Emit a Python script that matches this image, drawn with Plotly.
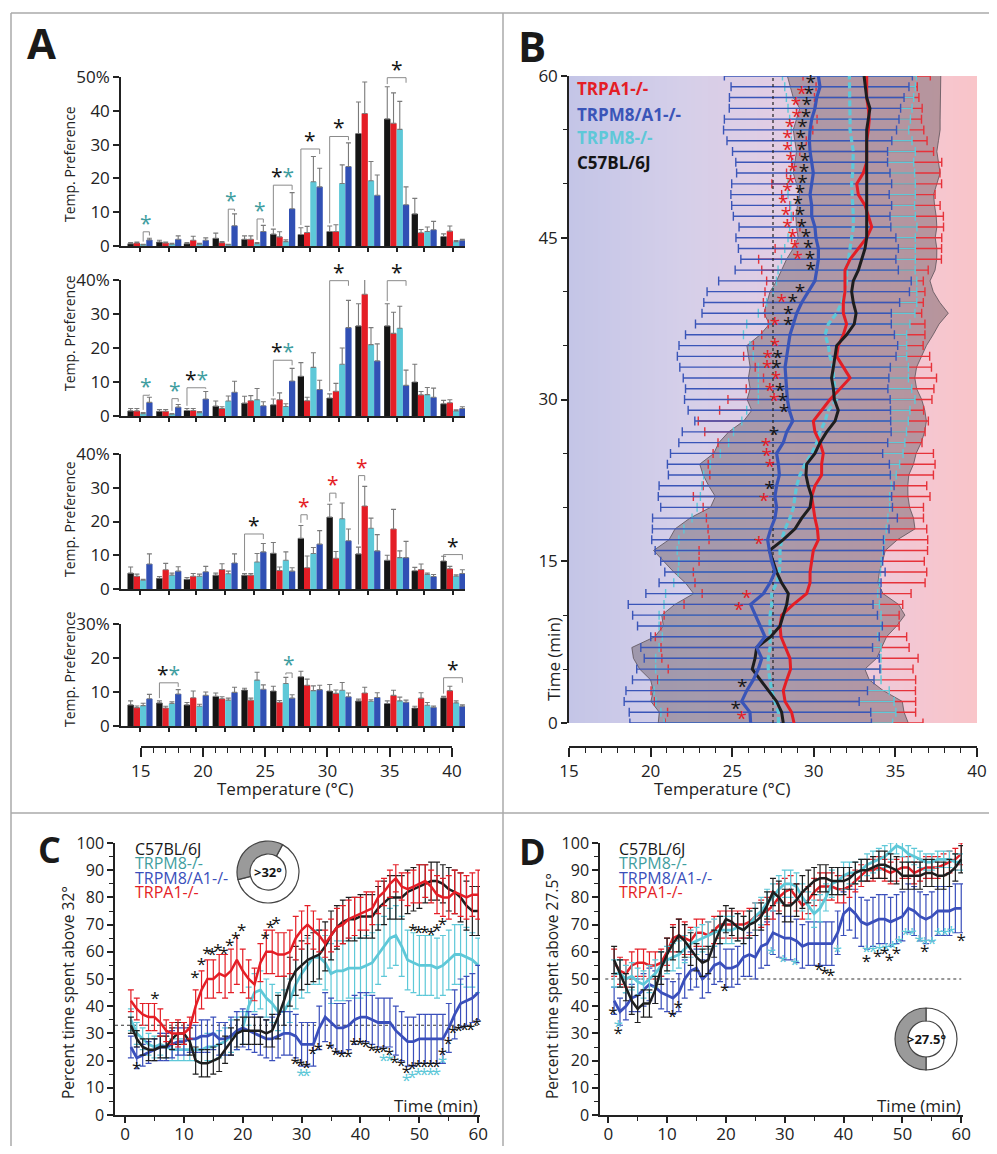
import numpy as np
import plotly.graph_objects as go

# The page body keeps its default 8px margin, so the figure is drawn 8px in from the
# window corner; target pixel positions below are window pixels.
PAGE_OFF = 8
W, H = 997 - 2 * PAGE_OFF, 1154 - 2 * PAGE_OFF
def px_x(p): return (p - PAGE_OFF) / W
def px_y(p): return 1 - (p - PAGE_OFF) / H
def xdom(a, b): return [px_x(a), px_x(b)]
def ydom(top, bottom): return [px_y(bottom), px_y(top)]

FONT = "Open Sans"
K = "#151515"; RED = "#e41e26"; CYAN = "#5ec8d8"; BLUE = "#3150b4"; TEAL = "#3f9ea0"
AX = "#222222"

# ---------------- Panel A data ----------------
bin_temps = [15, 17.3, 19.5, 21.8, 24.1, 26.4, 28.6, 30.9, 33.2, 35.5, 37.7, 40]
pref_black = [[0.7,1.2,0.7,2.3,2.0,3.5,3.4,4.3,33.3,37.6,9.5,2.8],
              [1.5,1.4,1.6,2.9,3.8,3.3,11.7,5.3,26.5,26.5,10.0,3.6],
              [4.7,3.2,2.9,4.1,4.1,10.6,15.0,21.3,10.4,8.5,5.4,8.3],
              [6.2,6.8,6.2,8.7,10.6,10.3,14.5,10.3,7.4,6.6,5.3,8.3]]
pref_black_err = [[0.3,0.5,0.3,1.5,1.0,1.5,2.0,1.6,9.3,9.5,4.6,0.8],
                  [0.7,0.5,0.6,1.5,2.0,1.7,4.0,1.2,6.5,6.5,5.2,1.0],
                  [1.8,0.5,0.5,0.6,0.5,3.2,3.8,3.8,2.0,1.5,1.0,1.4],
                  [1.2,0.6,0.7,1.0,0.5,1.4,1.6,1.9,0.5,0.8,0.5,0.4]]
pref_red = [[0.9,0.9,1.7,1.0,2.0,2.7,4.0,4.3,39.2,36.3,3.9,4.4],
            [1.5,1.4,1.6,2.2,4.5,4.8,4.5,7.3,35.8,24.3,6.2,3.9],
            [3.8,5.7,3.8,5.8,4.1,5.5,6.3,9.1,24.6,17.8,5.8,6.0],
            [5.4,5.3,8.3,8.0,7.6,7.0,12.0,9.6,9.7,9.0,8.2,10.4]]
pref_red_err = [[0.3,0.3,1.2,0.3,1.0,1.5,1.8,2.0,9.3,9.0,1.0,1.5],
                [0.7,0.5,0.6,0.5,1.5,2.0,1.0,2.3,7.5,6.2,1.0,0.9],
                [0.6,1.9,0.8,1.7,0.5,1.0,3.5,2.0,5.8,5.8,1.6,0.7],
                [0.5,0.5,2.0,0.6,0.6,0.5,1.8,1.0,1.7,1.5,1.6,1.3]]
pref_cyan = [[0.3,0.5,0.5,0.3,0.7,1.3,19.0,18.5,19.3,34.5,4.3,1.3],
             [0.7,0.5,1.0,4.4,4.8,2.8,14.3,15.2,21.0,25.8,6.3,1.5],
             [2.6,4.1,3.8,4.5,8.0,8.5,10.5,20.8,18.0,9.3,4.3,3.8],
             [6.0,6.6,5.8,7.6,13.5,12.5,10.4,10.5,7.3,7.4,6.1,6.8]]
pref_cyan_err = [[0.2,0.3,0.3,0.2,0.3,0.5,7.5,5.5,5.7,8.3,1.3,0.3],
                 [0.3,0.2,0.3,1.5,3.3,0.8,4.3,4.8,5.0,6.5,2.1,0.3],
                 [0.3,0.6,0.6,0.8,2.5,2.5,1.8,4.7,3.0,2.0,0.4,0.4],
                 [0.7,0.5,0.6,0.6,2.3,1.8,1.4,2.3,0.4,1.1,0.8,0.6]]
pref_blue = [[1.8,2.0,1.7,6.0,4.3,11.0,17.5,23.5,15.0,12.2,4.8,1.7],
             [4.0,2.6,5.0,7.0,3.0,10.3,7.8,26.0,16.2,9.0,5.5,2.2],
             [7.4,5.3,5.1,7.7,11.0,5.3,13.3,14.3,11.3,9.3,3.7,4.6],
             [8.0,9.4,9.0,9.9,10.8,8.2,10.7,8.6,8.4,7.0,5.5,5.8]]
pref_blue_err = [[0.5,1.0,0.7,3.5,1.8,4.8,5.5,7.0,6.0,5.3,2.5,0.3],
                 [1.5,0.8,2.2,3.2,1.2,3.7,2.7,8.0,5.0,4.5,2.7,0.5],
                 [3.0,1.3,1.6,2.7,2.5,1.0,4.0,3.5,4.8,4.8,0.6,1.1],
                 [1.3,1.3,1.0,1.5,1.3,1.0,1.3,1.1,1.4,0.6,0.4,0.4]]
# significance brackets: panel, group, from-bar, to-bar, height, star colours
sig_panel = [0,0,0,0,0,0,0, 1,1,1,1,1,1, 2,2,2,2,2, 3,3,3]
sig_group = [0,3,4,5,6,7,9, 0,1,2,5,7,9, 4,6,7,8,11, 1,5,11]
sig_from  = [2,2,2,0,0,0,0, 2,2,0,0,0,0, 0,0,0,0,0, 0,2,0]
sig_to    = [3,3,3,3,3,3,3, 3,3,3,3,3,3, 3,1,1,1,3, 3,3,3]
sig_height = [4.2,10.9,8.0,18,28.7,32.4,49.8, 6.1,5.1,8.3,16.4,39.8,39.8, 16.3,22,28.4,33.6,10.2, 12.7,15.6,14.2]
sig_stars = ["c","c","c","kc","k","k","k", "c","c","kc","kc","k","k", "k","r","r","r","k", "kc","c","k"]

# ---------------- Panel B data ----------------
b_time = list(range(0, 61))
b_blue = [26.13,26.09,25.58,25.89,26.29,26.60,26.81,26.50,27.01,26.70,26.40,26.13,26.91,27.32,27.62,27.42,27.28,27.17,27.36,
          27.62,27.72,27.62,27.72,27.89,27.83,27.72,28.13,28.34,28.71,28.50,28.38,28.34,28.30,28.24,28.34,28.44,28.54,28.75,28.95,29.26,29.66,30.07,
          30.18,30.28,30.28,30.13,30.07,29.87,29.87,29.77,29.87,29.97,29.87,29.77,29.73,29.77,29.87,30.07,30.18,30.38,30.28]
b_blue_sd = [7.4,7.4,7.2,7.4,7.4,7.45,7.2,7.1,7.0,7.5,7.5,7.5,7.2,6.8,6.75,6.8,7.0,7.1,7.25,
             7.5,7.1,7.15,7.2,6.8,6.8,6.5,6.4,6.4,6.0,6.2,6.3,6.2,6.3,6.45,6.7,6.7,6.4,6.0,5.8,6.0,6.2,5.9,
             5.0,4.75,4.9,4.9,4.65,4.8,4.9,4.85,4.9,4.7,4.65,4.75,5.05,5.3,5.35,5.25,5.35,5.45,5.76]
b_black = [28.13,28.03,27.72,27.21,26.70,26.23,26.40,26.50,27.36,27.93,28.13,28.34,28.44,28.03,27.72,27.52,27.28,28.13,28.85,
           29.26,29.77,29.87,29.66,29.52,29.56,30.07,30.38,30.79,31.30,31.50,31.26,31.20,31.09,31.20,31.30,31.40,32.01,32.48,32.59,32.42,32.32,32.42,
           32.73,32.93,33.14,33.24,33.24,33.20,33.20,33.24,33.24,33.24,33.24,33.24,33.24,33.24,33.34,33.44,33.24,33.14,33.08]
b_black_sd = [7.66,7.5,7.7,7.05,6.7,6.9,7.45,7.65,7.1,7.15,7.45,6.85,5.8,5.9,6.3,6.7,7.1,7.0,7.35,
              6.85,6.1,5.9,6.1,6.3,6.55,6.2,6.2,6.0,5.6,5.3,5.35,5.1,5.1,5.1,5.3,5.5,5.3,5.2,5.65,5.3,5.0,4.7,
              4.7,4.6,4.4,4.2,4.3,4.3,4.2,4.1,4.3,4.5,4.4,4.3,4.4,4.5,4.4,4.3,4.5,4.6,4.7]
b_red = [28.79,28.64,28.24,28.13,28.34,28.58,28.54,28.24,27.99,27.93,28.03,28.75,29.56,29.77,29.77,29.87,29.97,30.28,30.22,
         30.07,29.97,29.87,30.07,30.48,30.48,30.58,30.38,30.07,29.97,30.48,30.99,31.61,32.22,31.81,31.40,31.50,31.81,32.01,31.81,31.81,31.91,31.91,
         31.91,32.22,32.73,33.24,33.55,33.34,33.14,32.73,32.63,33.03,33.24,33.24,33.24,33.34,33.40,33.34,33.24,33.24,33.24]
b_red_sd = [7.9,7.6,8.0,8.1,7.9,7.5,7.85,7.6,7.7,7.3,7.2,6.7,6.4,7.05,7.15,6.9,7.0,6.7,6.7,
            6.65,6.75,7.25,6.85,6.85,6.95,6.75,6.25,6.75,7.05,6.25,6.25,5.75,5.3,5.4,5.7,5.2,5.0,4.8,4.8,4.9,4.9,4.8,
            5.1,5.6,5.1,4.6,4.4,4.6,4.6,4.7,5.2,4.7,4.6,4.1,3.7,3.4,3.2,3.3,3.2,3.1,3.9]
b_cyan = [27.83,27.83,27.62,27.42,27.32,27.21,27.21,27.32,27.32,27.32,27.32,27.42,27.42,27.72,27.89,27.93,27.93,28.03,28.24,
          28.54,28.75,28.85,28.95,29.15,29.46,29.87,30.18,30.38,30.69,30.89,31.40,31.30,31.20,31.20,30.99,30.89,30.69,30.89,31.40,31.71,31.91,32.01,
          32.01,32.12,32.22,32.32,32.42,32.42,32.38,32.32,32.32,32.38,32.42,32.42,32.32,32.22,32.22,32.22,32.22,32.22,32.18]
b_cyan_sd = [7.0,7.2,7.3,7.2,6.8,6.9,6.9,6.8,6.6,6.8,6.8,6.6,6.5,6.3,6.2,6.2,6.3,6.3,6.2,
             6.0,5.9,5.8,5.8,5.9,5.8,5.6,5.4,5.3,5.1,5.0,4.8,4.7,4.6,4.6,4.7,4.8,5.0,5.0,4.8,4.6,4.4,4.3,
             4.2,4.1,4.0,3.9,3.9,3.8,3.8,3.9,3.9,3.8,3.7,3.8,3.7,3.6,3.7,3.8,3.9,4.0,4.1]
bstar_black_t = [1.2,3.2,21.6,26.6,28.7,29.7,30.7,32.8,33.7,36.8,37.8,38.9,39.9,41.9,42.9,43.9,45.0,45.9,47.0,48.0,
                 49.0,50.0,51.0,52.0,53.0,54.1,55.2,56.1,57.2,58.2,59.2]
bstar_black_T = [25.21,25.62,27.28,27.56,28.17,28.09,27.93,27.72,27.79,28.44,28.44,28.71,29.15,29.81,29.77,29.66,29.52,29.26,29.15,29.01,
                 29.15,29.30,29.40,29.46,29.26,29.20,29.30,29.52,29.56,29.71,29.81]
bstar_red_t = [0.3,10.4,11.5,16.5,20.5,23.6,24.6,25.6,29.7,30.7,31.8,32.8,33.7,34.8,36.8,38.9,42.9,43.9,45.0,45.9,
               47.0,48.1,49.2,50.0,51.1,52.1,53.0,54.1,55.2,56.1,57.2,58.2]
bstar_red_T = [25.58,25.42,25.89,26.64,26.95,27.32,27.11,27.07,27.58,27.32,27.68,27.15,27.17,27.62,27.62,28.03,29.01,28.85,28.71,28.38,
               28.30,28.13,28.38,28.58,28.71,28.58,28.38,28.38,28.54,28.95,28.91,29.26]

# ---------------- Panel C / D data ----------------
minutes = list(range(1, 61))
c_black = [33,28,25,24,24,25,25,28,30,30, 27,20,19,19,20,21,24,27,30,31, 31,31,31,30,31,36,42,49,53,55,
           57,58,59,62,66,69,71,72,72,73, 73,73,76,78,80,80,80,82,83,84, 85,86,86,85,83,82,80,77,75,75]
c_black_err = [3,3,3,4,4,4,4,4,4,4, 5,5,5,5,5,5,5,5,5,5, 5,5,5,5,6,8,9,9,9,9,
               9,9,9,9,9,8,8,8,8,8, 8,8,8,8,8,8,8,8,8,8, 7,7,7,7,8,8,9,9,9,9]
c_red = [42,39,37,36,36,34,31,30,30,30, 32,40,46,50,50,52,51,53,57,53, 50,48,56,60,60,59,59,60,65,68,
         70,68,66,63,66,69,70,72,73,74, 75,76,80,82,85,87,84,83,84,85, 86,84,81,80,80,82,81,80,81,81]
c_red_err = [4,4,4,5,5,5,4,4,5,4, 4,6,7,7,7,7,8,8,9,8, 7,6,7,8,8,8,8,8,8,7,
             7,7,6,5,6,7,7,7,7,6, 7,6,6,5,5,5,5,6,6,7, 6,6,7,7,8,8,8,8,8,9]
c_cyan = [35,30,28,26,25,26,25,24,24,24, 24,24,24,25,25,26,27,29,30,32, 40,45,46,43,41,38,38,42,48,52,
          55,58,58,56,52,53,53,54,54,54, 55,56,59,62,65,66,62,57,56,55, 55,55,54,55,57,59,59,58,57,55]
c_cyan_err = [4,4,4,4,4,4,4,4,4,4, 4,4,5,5,5,5,5,6,6,6, 7,7,7,7,7,7,8,8,9,9,
              10,10,10,10,11,11,11,11,11,11, 11,11,11,11,11,11,11,11,11,11, 11,11,11,11,11,11,11,11,10,10]
c_blue = [25,21,22,23,24,25,25,26,27,27, 28,28,29,29,30,28,28,29,31,32, 31,30,29,28,28,29,30,30,29,26,
          26,26,32,36,34,32,32,33,35,36, 36,35,34,34,34,31,29,27,27,28, 28,28,28,28,32,37,41,42,43,45]
c_blue_err = [4,4,4,4,4,5,5,5,5,5, 5,5,6,6,6,6,6,7,7,7, 7,7,7,7,8,8,8,8,8,8,
              8,8,8,9,9,9,9,9,9,9, 9,9,9,9,9,9,9,9,9,9, 9,9,9,9,9,9,9,9,9,10]
cstar_black_t = [2,5.1,11.9,13,13.9,14.8,15.8,16.8,17.8,18.8, 19.8,23.8,24.7,25.7,28.9,29.8,30.8,31.9,32.8,34.8,
                 35.8,36.8,37.9,38.9,39.9,40.9,41.9,42.9,43.9,44.9, 45.8,46.9,47.8,48.8,49.8,50.8,51.9,52.9,53.9,54.9,
                 55.7,56.7,57.7,58.7,59.8,48.9,49.9,50.9,52.0,53.0, 53.9]
cstar_black_v = [16.5,42.5,50.2,54.8,59,58.7,60,59,61.8,64.3, 67.3,64.3,68.5,70.1,18.4,17.7,17.1,22,23.6,24,
                 21.7,21.2,21.2,25.3,25.3,24.8,23.3,22.6,22.9,21.7, 19,17.7,15,16.8,17.5,17.5,17.5,17.5,21.7,25.7,
                 30,30.5,30.8,31,32.7,67.3,66.8,66.8,66,67.5, 69.4]
cstar_cyan_t = [29.9,30.8,43.9,44.9,47.8,48.8,49.8,50.8,51.9,52.9,53.9]
cstar_cyan_v = [14,14,19.6,19.6,12.2,13.5,14.3,14.3,14.3,14.3,19]

d_black = [57,52,47,42,39,41,41,46,54,59, 63,66,64,61,58,56,57,63,68,72, 71,69,68,70,71,73,77,82,80,77,
           77,79,82,84,86,87,87,86,86,86, 87,89,90,90,91,92,92,91,90,88, 88,88,88,89,89,88,88,89,91,94]
d_black_err = [5,5,5,5,5,5,5,5,6,6, 6,6,6,6,5,5,5,5,5,5, 5,5,5,5,5,5,5,5,6,6,
               6,6,6,6,5,5,5,5,5,5, 4,4,4,4,4,5,5,5,5,5, 5,5,5,5,5,5,5,5,5,5]
d_red = [56,53,52,55,56,56,55,55,56,60, 65,66,65,64,67,67,66,68,70,70, 70,70,70,71,73,74,75,77,80,82,
         83,80,77,79,82,84,84,84,83,83, 84,86,88,90,90,91,90,89,90,91, 91,89,90,91,91,91,92,93,94,96]
d_red_err = [5,5,5,5,5,5,5,5,5,5, 5,6,6,5,5,5,5,5,5,5, 5,5,5,5,5,5,5,5,5,5,
             5,5,5,5,5,5,5,5,5,5, 4,4,4,4,4,4,4,4,4,4, 4,4,4,4,4,4,4,4,4,4]
d_cyan = [52,52,50,51,49,48,50,52,55,57, 58,59,61,63,64,65,66,67,68,68, 68,69,68,70,73,75,78,80,83,85,
          85,84,80,77,74,76,80,85,86,88, 89,89,90,92,93,94,95,97,99,98, 96,95,94,93,93,94,94,94,93,93]
d_cyan_err = [5,5,5,5,5,5,5,5,5,5, 5,5,5,5,5,5,5,5,5,5, 5,5,5,5,5,5,5,5,5,5,
              5,5,5,5,5,5,5,5,5,5, 4,4,4,4,4,4,4,3,3,3, 3,3,3,3,3,3,3,3,3,3]
d_blue = [42,38,40,43,44,46,48,47,45,44, 43,45,50,53,54,50,52,55,56,54, 54,55,58,59,58,62,63,67,66,65,
          65,64,62,63,63,63,63,63,67,74, 76,74,71,70,71,72,72,71,72,73, 76,75,73,72,73,75,75,75,76,76]
d_blue_err = [5,5,5,5,6,6,6,6,6,6, 6,7,7,7,7,7,7,7,7,7, 7,7,7,8,8,8,8,8,8,8,
              8,8,8,8,8,8,8,8,8,8, 8,9,9,9,9,9,9,9,9,9, 9,9,9,9,9,9,9,9,9,9]
dstar_black_t = [0.8,1.7,10.9,11.9,19.8,35.8,36.8,37.8,43.9,45.8, 47,47.8,49,53.8,60,48.7,49.8,50.9,52,53.1, 54.2]
dstar_black_v = [36.8,29.5,35.6,39,45.4,53,51.5,51,55.8,57.7, 59,56.4,59,59.5,63.8,101,101,100.5,100.5,100.5, 100.5]
dstar_cyan_t = [1.7,27.7,29.7,31.7,38.9,43.9,45,46.1,47.2,48.3,49.4,50.5,51.6,52.8,53.8,55,56.1,57.2,58.3]
dstar_cyan_v = [32,59,55.8,55,59.5,59.5,59.5,60,60.5,61,63,66,66,63.5,62.5,62.5,66,66,66.5]

# donut icons: [fraction below threshold (white), fraction above (grey)]
donut_c = [0.633, 0.367]
donut_d = [0.5, 0.5]

fig = go.Figure()
annotations = []

# ================= Panel A =================
bar_colors = [K, RED, CYAN, BLUE]
star_col = {"k": K, "c": TEAL, "r": RED}
for k in range(4):
    vals4 = [pref_black[k], pref_red[k], pref_cyan[k], pref_blue[k]]
    errs4 = [pref_black_err[k], pref_red_err[k], pref_cyan_err[k], pref_blue_err[k]]
    for i in range(4):
        fig.add_trace(go.Bar(x=bin_temps, y=vals4[i], width=0.5, offset=-1.0 + 0.5 * i,
                             marker=dict(color=bar_colors[i], line=dict(width=0)),
                             error_y=dict(type="data", array=errs4[i], arrayminus=[0] * 12, symmetric=False,
                                          color="#7a7a7a", thickness=1.1, width=2.5),
                             xaxis=f"x{k+1}", yaxis=f"y{k+1}", showlegend=False, hoverinfo="skip"))
    bx, by = [], []
    for s in range(len(sig_panel)):
        if sig_panel[s] != k:
            continue
        g = sig_group[s]; fa = sig_from[s]; fb = sig_to[s]; h = sig_height[s]
        xa = bin_temps[g] - 1.0 + 0.5 * fa + 0.25
        xb = bin_temps[g] - 1.0 + 0.5 * fb + 0.25
        top_a = vals4[fa][g] + errs4[fa][g] + 0.8
        top_b = max(vals4[fb][g] + errs4[fb][g] + 0.8, h - 1.5)
        bx += [xa, xa, xb, xb, None]
        by += [min(top_a, h - 0.5), h, h, top_b, None]
        txt = "".join(f"<span style='color:{star_col[c]}'>*</span>" for c in sig_stars[s])
        annotations.append(dict(x=(xa + xb) / 2, y=h, xref=f"x{k+1}", yref=f"y{k+1}", text=txt,
                                showarrow=False, yanchor="bottom", yshift=-7,
                                font=dict(family=FONT, size=21, color=K)))
    fig.add_trace(go.Scatter(x=bx, y=by, mode="lines", line=dict(color="#8a8a8a", width=1),
                             xaxis=f"x{k+1}", yaxis=f"y{k+1}", showlegend=False, hoverinfo="skip"))

fig.add_trace(go.Scatter(x=[15, 40], y=[0, 1], mode="markers", marker=dict(size=1, color="rgba(0,0,0,0)"),
                         xaxis="x5", yaxis="y5", showlegend=False, hoverinfo="skip"))

# ================= Panel B =================
bg_edges = np.linspace(15, 40, 201)
bg_z = [list((bg_edges[:-1] + bg_edges[1:]) / 2)]
fig.add_trace(go.Heatmap(x=bg_edges, y=[0, 60], z=bg_z, zmin=15, zmax=40, showscale=False, hoverinfo="skip",
                         colorscale=[[0, "#c4c5e7"], [0.28, "#d5cfe9"], [0.52, "#e2cde3"], [0.72, "#edcadb"],
                                     [0.88, "#f5c6d0"], [1, "#f9c5c9"]],
                         xaxis="x6", yaxis="y6"))
lower = list(np.array(b_black) - np.array(b_black_sd))
upper = list(np.array(b_black) + np.array(b_black_sd))
fig.add_trace(go.Scatter(x=lower, y=b_time, mode="lines", line=dict(color="#5a5058", width=0.8),
                         xaxis="x6", yaxis="y6", showlegend=False, hoverinfo="skip"))
fig.add_trace(go.Scatter(x=upper, y=b_time, mode="lines", line=dict(color="#5a5058", width=0.8),
                         fill="tonextx", fillcolor="rgba(95,80,88,0.42)",
                         xaxis="x6", yaxis="y6", showlegend=False, hoverinfo="skip"))
for mean, sd, col in [(b_red, b_red_sd, "#e6323a"), (b_cyan, b_cyan_sd, CYAN), (b_blue, b_blue_sd, "#3a55b8")]:
    fig.add_trace(go.Scatter(x=mean, y=b_time, mode="markers", marker=dict(size=1, color="rgba(0,0,0,0)"),
                             error_x=dict(type="data", array=sd, color=col, thickness=1.4, width=4.5),
                             xaxis="x6", yaxis="y6", showlegend=False, hoverinfo="skip"))
fig.add_trace(go.Scatter(x=[27.5, 27.5], y=[0, 60], mode="lines", line=dict(color="#222", width=1.2, dash="dot"),
                         xaxis="x6", yaxis="y6", showlegend=False, hoverinfo="skip"))
fig.add_trace(go.Scatter(x=b_cyan, y=b_time, mode="lines", line=dict(color=CYAN, width=3.2, dash="6px,3px"),
                         xaxis="x6", yaxis="y6", showlegend=False, hoverinfo="skip"))
fig.add_trace(go.Scatter(x=b_red, y=b_time, mode="lines", line=dict(color=RED, width=3),
                         xaxis="x6", yaxis="y6", showlegend=False, hoverinfo="skip"))
fig.add_trace(go.Scatter(x=b_black, y=b_time, mode="lines", line=dict(color="#1e1e1e", width=3),
                         xaxis="x6", yaxis="y6", showlegend=False, hoverinfo="skip"))
fig.add_trace(go.Scatter(x=b_blue, y=b_time, mode="lines", line=dict(color="#3a55b8", width=3.2),
                         xaxis="x6", yaxis="y6", showlegend=False, hoverinfo="skip"))
fig.add_trace(go.Scatter(x=bstar_red_T, y=bstar_red_t, mode="text", text=["*"] * len(bstar_red_t),
                         textfont=dict(family=FONT, size=19, color=RED), cliponaxis=False,
                         xaxis="x6", yaxis="y6", showlegend=False, hoverinfo="skip"))
fig.add_trace(go.Scatter(x=bstar_black_T, y=bstar_black_t, mode="text", text=["*"] * len(bstar_black_t),
                         textfont=dict(family=FONT, size=19, color=K), cliponaxis=False,
                         xaxis="x6", yaxis="y6", showlegend=False, hoverinfo="skip"))
fig.add_trace(go.Scatter(x=[15, 40], y=[0, 1], mode="markers", marker=dict(size=1, color="rgba(0,0,0,0)"),
                         xaxis="x7", yaxis="y7", showlegend=False, hoverinfo="skip"))

# ================= Panels C and D =================
def add_time_panel(ax, series, stars_k, stars_c, ref_level, ref_x):
    fig.add_trace(go.Scatter(x=ref_x, y=[ref_level, ref_level], mode="lines",
                             line=dict(color="#333", width=1.2, dash="dot"),
                             xaxis=f"x{ax}", yaxis=f"y{ax}", showlegend=False, hoverinfo="skip"))
    for vals, err, col, lw in series:
        fig.add_trace(go.Scatter(x=minutes, y=vals, mode="lines", line=dict(color=col, width=lw),
                                 error_y=dict(type="data", array=err, color=col, thickness=1.2, width=3),
                                 xaxis=f"x{ax}", yaxis=f"y{ax}", showlegend=False, hoverinfo="skip"))
    for (tt, vv), col in [(stars_c, CYAN), (stars_k, K)]:
        fig.add_trace(go.Scatter(x=tt, y=vv, mode="text", text=["*"] * len(tt), cliponaxis=False,
                                 textfont=dict(family=FONT, size=17, color=col),
                                 xaxis=f"x{ax}", yaxis=f"y{ax}", showlegend=False, hoverinfo="skip"))

add_time_panel(8, [(c_cyan, c_cyan_err, CYAN, 2.8), (c_blue, c_blue_err, "#3a4fbb", 2.8),
                   (c_black, c_black_err, "#1e1e1e", 2.5), (c_red, c_red_err, RED, 2.5)],
               (cstar_black_t, cstar_black_v), (cstar_cyan_t, cstar_cyan_v), 33, [-1.7, 60.3])
add_time_panel(9, [(d_blue, d_blue_err, "#3a4fbb", 2.8), (d_red, d_red_err, RED, 2.5),
                   (d_cyan, d_cyan_err, CYAN, 2.8), (d_black, d_black_err, "#1e1e1e", 2.5)],
               (dstar_black_t, dstar_black_v), (dstar_cyan_t, dstar_cyan_v), 50, [-0.5, 60])

fig.add_trace(go.Pie(values=donut_c, hole=0.58, sort=False, rotation=28,
                     marker=dict(colors=["#ffffff", "#9a9a9a"], line=dict(color="#444", width=1.2)),
                     textinfo="none", hoverinfo="skip", showlegend=False,
                     domain=dict(x=xdom(237, 299), y=ydom(841, 903))))
fig.add_trace(go.Pie(values=donut_d, hole=0.58, sort=False, rotation=0,
                     marker=dict(colors=["#ffffff", "#9a9a9a"], line=dict(color="#444", width=1.2)),
                     textinfo="none", hoverinfo="skip", showlegend=False,
                     domain=dict(x=xdom(895, 957), y=ydom(1008, 1070))))

# ================= Layout =================
base = dict(showline=True, linecolor=AX, linewidth=1.5, ticks="outside", tickcolor=AX, tickwidth=1.5,
            showgrid=False, zeroline=False, automargin=False, tickfont=dict(family=FONT, size=17, color=AX))
def minor_t(d, l): return dict(dtick=d, ticks="outside", ticklen=l, tickcolor=AX, tickwidth=1.2)
lay = {}
ya_ranges = [[0, 50], [0, 40], [0, 40], [0, 30]]
ya_ticks = [[0, 10, 20, 30, 40, 50], [0, 10, 20, 30, 40], [0, 10, 20, 30, 40], [0, 10, 20, 30]]
ya_text = [["0", "10", "20", "30", "40", "50%"], ["0", "10", "20", "30", "40%"],
           ["0", "10", "20", "30", "40%"], ["0", "10", "20", "30%"]]
ya_px = [(77, 246), (280, 416), (454, 589), (624, 726)]
for k in range(4):
    lay[f"xaxis{k+1}"] = dict(base, domain=xdom(121, 465), range=[13.48, 40.96], anchor=f"y{k+1}",
                              tickmode="array", tickvals=bin_temps, ticklen=4, showticklabels=False)
    lay[f"yaxis{k+1}"] = dict(base, domain=ydom(*ya_px[k]), range=ya_ranges[k], anchor=f"x{k+1}",
                              tickmode="array", tickvals=ya_ticks[k], ticktext=ya_text[k], ticklen=6)
temp_axis = dict(base, range=[15, 40], tick0=15, dtick=5, ticklen=9, minor=minor_t(1, 5))
hidden = dict(range=[0, 1], visible=False, automargin=False)
lay["xaxis5"] = dict(temp_axis, domain=xdom(140.7, 452), anchor="y5")
lay["yaxis5"] = dict(hidden, domain=ydom(736, 746), anchor="x5")
lay["xaxis6"] = dict(domain=xdom(569, 977), range=[15, 40], visible=False, automargin=False, anchor="y6")
lay["yaxis6"] = dict(base, domain=ydom(76, 723), range=[0, 60], anchor="x6", tick0=0, dtick=15, ticklen=6,
                     minor=minor_t(5, 4))
lay["xaxis7"] = dict(temp_axis, domain=xdom(569, 977), anchor="y7")
lay["yaxis7"] = dict(hidden, domain=ydom(736, 746), anchor="x7")
cd_font = dict(family=FONT, size=16, color=AX)
lay["xaxis8"] = dict(base, domain=xdom(115, 480), range=[-1.7, 60.3], anchor="y8", tick0=0, dtick=10, ticklen=6,
                     minor=minor_t(5, 4), ticklabelstandoff=-3)
lay["yaxis8"] = dict(base, domain=ydom(843, 1115), range=[0, 100], anchor="x8", tick0=0, dtick=10, ticklen=6,
                     minor=minor_t(5, 4), tickfont=cd_font)
lay["xaxis9"] = dict(base, domain=xdom(600, 963), range=[-1.4, 60.3], anchor="y9", tick0=0, dtick=10, ticklen=6,
                     minor=minor_t(5, 4), ticklabelstandoff=-3)
lay["yaxis9"] = dict(base, domain=ydom(843, 1115), range=[0, 100], anchor="x9", tick0=0, dtick=10, ticklen=6,
                     minor=minor_t(5, 4), tickfont=cd_font)

def ann(text, x, y, size, color=AX, xanchor="center", yanchor="middle", angle=0):
    return dict(text=text, x=px_x(x), y=px_y(y), xref="paper", yref="paper", showarrow=False,
                font=dict(family=FONT, size=size, color=color), xanchor=xanchor, yanchor=yanchor,
                textangle=angle)

annotations += [
    ann("<b>A</b>", 41, 43, 42, "#1a1a1a"), ann("<b>B</b>", 532, 45, 42, "#1a1a1a"),
    ann("<b>C</b>", 49, 849, 36, "#1a1a1a"), ann("<b>D</b>", 532, 851, 36, "#1a1a1a"),
    ann("Temp. Preference", 69, 164, 14, angle=-90), ann("Temp. Preference", 69, 333, 14, angle=-90),
    ann("Temp. Preference", 69, 519, 14, angle=-90), ann("Temp. Preference", 69, 669, 14, angle=-90),
    ann("Temperature (°C)", 285, 788, 17), ann("Temperature (°C)", 722, 788, 17),
    ann("Time (min)", 553, 659, 17, angle=-90),
    ann("<b>TRPA1-/-</b>", 575, 89, 17, RED, xanchor="left"),
    ann("<b>TRPM8/A1-/-</b>", 575, 114, 17, "#3a55b8", xanchor="left"),
    ann("<b>TRPM8-/-</b>", 575, 138, 17, CYAN, xanchor="left"),
    ann("<b>C57BL/6J</b>", 575, 162, 17, K, xanchor="left"),
    ann("Percent time spent above 32°", 68, 993, 15.5, angle=-90),
    ann("Percent time spent above 27.5°", 552, 986, 15.5, angle=-90),
    ann("Time (min)", 480, 1105, 17, xanchor="right"), ann("Time (min)", 963, 1105, 17, xanchor="right"),
    ann("<b>&gt;32°</b>", 268, 872, 13, K), ann("<b>&gt;27.5°</b>", 926, 1039, 13, K),
]
for x0 in [133, 617]:
    annotations += [ann("C57BL/6J", x0, 849, 16, K, xanchor="left"),
                    ann("TRPM8-/-", x0, 863, 16, TEAL, xanchor="left"),
                    ann("TRPM8/A1-/-", x0, 878, 16, "#3a4fbb", xanchor="left"),
                    ann("TRPA1-/-", x0, 892, 16, RED, xanchor="left")]

line_col = "#aaaaaa"
def pline(x0, y0, x1, y1):
    return dict(type="line", xref="paper", yref="paper", x0=px_x(x0), x1=px_x(x1), y0=px_y(y0), y1=px_y(y1),
                line=dict(color=line_col, width=1.5))
shapes = [pline(11, 13, 11, 1146), pline(11, 13, 989, 13), pline(503, 13, 503, 1146), pline(11, 813, 989, 813)]

fig.update_layout(template="none", width=W, height=H,
                  margin=dict(l=0, r=0, t=0, b=0, pad=0, autoexpand=False), showlegend=False,
                  paper_bgcolor="white", plot_bgcolor="rgba(0,0,0,0)", barmode="overlay",
                  shapes=shapes, font=dict(family=FONT, color=AX), **lay)
fig.layout.annotations = annotations
fig.write_html("out.html")
